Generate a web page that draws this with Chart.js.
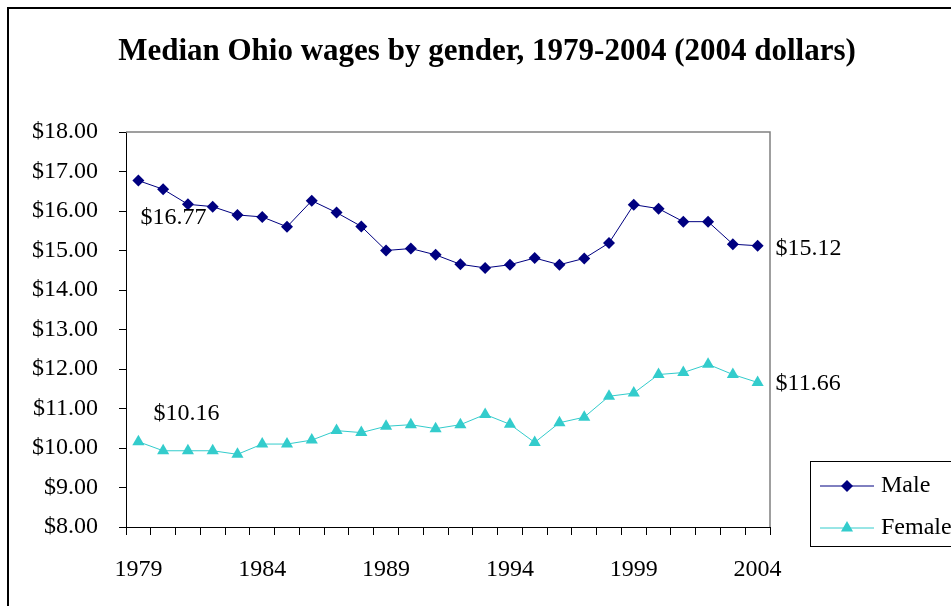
<!DOCTYPE html>
<html>
<head>
<meta charset="utf-8">
<script src="https://cdn.jsdelivr.net/npm/chart.js@4.4.0/dist/chart.umd.min.js"></script>
<style>
  html, body { margin: 0; padding: 0; background: #fff; }
  canvas { display: block; }
</style>
</head>
<body>
<canvas id="c" width="951" height="606"></canvas>
<script>
const chartTitle = 'Median Ohio wages by gender, 1979-2004 (2004 dollars)';
const years = ['1979','1980','1981','1982','1983','1984','1985','1986','1987','1988','1989','1990','1991','1992','1993','1994','1995','1996','1997','1998','1999','2000','2001','2002','2003','2004'];
const yearLabelsShown = ['1979','1984','1989','1994','1999','2004'];
const maleWages = [16.77,16.55,16.17,16.11,15.90,15.85,15.60,16.26,15.96,15.61,15.00,15.05,14.89,14.65,14.56,14.64,14.81,14.64,14.80,15.19,16.16,16.06,15.73,15.73,15.16,15.12];
const femaleWages = [10.16,9.93,9.93,9.93,9.84,10.10,10.10,10.20,10.44,10.39,10.55,10.59,10.49,10.59,10.85,10.60,10.14,10.64,10.78,11.31,11.39,11.86,11.91,12.12,11.86,11.66];
const seriesNames = ['Male', 'Female'];
const yMin = 8, yMax = 18, yStep = 1;

const FONT = '"Liberation Serif", "Times New Roman", serif';
const MALE_COLOR = '#000080';
const FEMALE_COLOR = '#33CCCC';

function drawMarker(ctx, style, x, y, r, color) {
  ctx.save();
  ctx.fillStyle = color;
  ctx.beginPath();
  if (style === 'rectRot') {
    ctx.moveTo(x - r, y); ctx.lineTo(x, y - r); ctx.lineTo(x + r, y); ctx.lineTo(x, y + r);
  } else {
    const s = Math.sqrt(3) / 2;
    ctx.moveTo(x, y - r); ctx.lineTo(x + s * r, y + r / 2); ctx.lineTo(x - s * r, y + r / 2);
  }
  ctx.closePath();
  ctx.fill();
  ctx.restore();
}

const decorPlugin = {
  id: 'decor',
  beforeDraw(chart) {
    const ctx = chart.ctx;
    ctx.save();
    ctx.fillStyle = '#fff';
    ctx.fillRect(0, 0, chart.width, chart.height);
    ctx.strokeStyle = '#000';
    ctx.lineWidth = 2;
    ctx.strokeRect(8, 8, chart.width + 50, chart.height + 50);
    ctx.restore();
  },
  afterDraw(chart) {
    const ctx = chart.ctx;
    const a = chart.chartArea;
    ctx.save();
    // plot area top & right border
    ctx.strokeStyle = '#808080';
    ctx.lineWidth = 1.5;
    ctx.beginPath();
    ctx.moveTo(a.left, a.top);
    ctx.lineTo(a.right, a.top);
    ctx.lineTo(a.right, a.bottom);
    ctx.stroke();

    // title
    ctx.fillStyle = '#000';
    ctx.font = 'bold 31px ' + FONT;
    ctx.textAlign = 'center';
    ctx.textBaseline = 'alphabetic';
    ctx.fillText(chartTitle, 487, 60);

    // value annotations at first and last points
    const m = chart.getDatasetMeta(0).data;
    const f = chart.getDatasetMeta(1).data;
    const last = years.length - 1;
    ctx.font = '24px ' + FONT;
    ctx.textAlign = 'left';
    ctx.textBaseline = 'middle';
    ctx.fillText('$' + maleWages[0].toFixed(2), m[0].x + 2, m[0].y + 37);
    ctx.fillText('$' + maleWages[last].toFixed(2), m[last].x + 18, m[last].y + 3);
    ctx.fillText('$' + femaleWages[0].toFixed(2), f[0].x + 15, f[0].y - 28);
    ctx.fillText('$' + femaleWages[last].toFixed(2), f[last].x + 18, f[last].y + 1);

    // legend
    ctx.strokeStyle = '#000';
    ctx.lineWidth = 1;
    ctx.strokeRect(810.5, 461.5, 200, 85);
    const rows = [
      { name: seriesNames[0], color: MALE_COLOR, style: 'rectRot', r: 6, y: 486 },
      { name: seriesNames[1], color: FEMALE_COLOR, style: 'triangle', r: 7, y: 528 }
    ];
    rows.forEach(row => {
      ctx.strokeStyle = row.color;
      ctx.lineWidth = 1;
      ctx.beginPath();
      ctx.moveTo(820, row.y);
      ctx.lineTo(874, row.y);
      ctx.stroke();
      drawMarker(ctx, row.style, 847, row.y, row.r, row.color);
      ctx.fillStyle = '#000';
      ctx.font = '24px ' + FONT;
      ctx.textAlign = 'left';
      ctx.textBaseline = 'middle';
      ctx.fillText(row.name, 881, row.y);
    });
    ctx.restore();
  }
};

new Chart(document.getElementById('c'), {
  type: 'line',
  data: {
    labels: years,
    datasets: [
      {
        label: seriesNames[0],
        data: maleWages,
        borderColor: MALE_COLOR,
        backgroundColor: MALE_COLOR,
        borderWidth: 1,
        pointStyle: 'rectRot',
        pointRadius: 6,
        pointBorderWidth: 0,
        tension: 0
      },
      {
        label: seriesNames[1],
        data: femaleWages,
        borderColor: FEMALE_COLOR,
        backgroundColor: FEMALE_COLOR,
        borderWidth: 1,
        pointStyle: 'triangle',
        pointRadius: 7,
        pointBorderWidth: 0,
        tension: 0
      }
    ]
  },
  options: {
    responsive: false,
    animation: false,
    layout: { padding: { left: 0, right: 181, top: 132, bottom: 0 } },
    plugins: {
      legend: { display: false },
      title: { display: false },
      tooltip: { enabled: false }
    },
    scales: {
      x: {
        type: 'category',
        offset: true,
        afterFit(scale) { scale.height = 79; },
        grid: { offset: true, drawOnChartArea: false, tickLength: 8, color: '#000', lineWidth: 1 },
        border: { color: '#000', width: 1 },
        ticks: {
          autoSkip: false,
          maxRotation: 0,
          minRotation: 0,
          padding: 20,
          color: '#000',
          font: { family: FONT, size: 24 },
          callback(value) {
            const lbl = this.getLabelForValue(value);
            return yearLabelsShown.includes(lbl) ? lbl : '';
          }
        }
      },
      y: {
        min: yMin,
        max: yMax,
        afterFit(scale) { scale.width = 126; },
        grid: { drawOnChartArea: false, tickLength: 7, color: '#000', lineWidth: 1 },
        border: { color: '#000', width: 1 },
        ticks: {
          stepSize: yStep,
          padding: 21,
          color: '#000',
          font: { family: FONT, size: 24 },
          callback(v) { return '$' + Number(v).toFixed(2); }
        }
      }
    }
  },
  plugins: [decorPlugin]
});
</script>
</body>
</html>
